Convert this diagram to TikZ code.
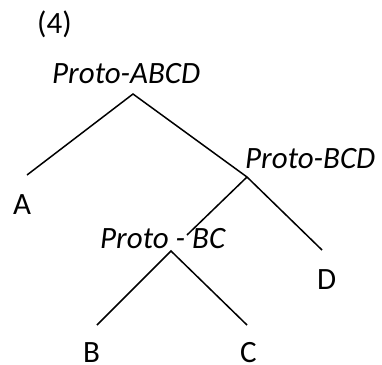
\documentclass[tikz,border=0pt]{standalone}
\usepackage{fontspec}
\setmainfont{Carlito}
\begin{document}
\begin{tikzpicture}[x=1pt,y=-1pt,
  lbl/.style={anchor=base west,inner sep=0pt,font=\fontsize{31}{36}\selectfont},
  proto/.style={lbl,font=\fontsize{31}{36}\selectfont\itshape},
  branch/.style={line width=1.5pt,black}]
\useasboundingbox (0,0) rectangle (382,364);
\node[lbl] (num) at (37,33) {(4)};
\node[proto] (abcd) at (52,83) {Proto-ABCD};
\node[proto] (bcd) at (245,168) {Proto-BCD};
\node[proto] (bc) at (100,248) {Proto - BC};
\node[lbl] (A) at (13,214) {A};
\node[lbl] (D) at (317,289) {D};
\node[lbl] (B) at (83,362) {B};
\node[lbl] (C) at (240,362) {C};
\coordinate (jabcd) at (133,94);
\coordinate (jbcd) at (247,177);
\coordinate (jbc) at (171,251);
\coordinate (eA) at (27,175);
\coordinate (eD) at (322,250);
\coordinate (ebc) at (187,235);
\coordinate (eB) at (97,325);
\coordinate (eC) at (247,325);
\draw[branch] (eA) -- (jabcd) -- (jbcd) -- (eD);
\draw[branch] (jbcd) -- (ebc);
\draw[branch] (eB) -- (jbc) -- (eC);
\end{tikzpicture}
\end{document}
